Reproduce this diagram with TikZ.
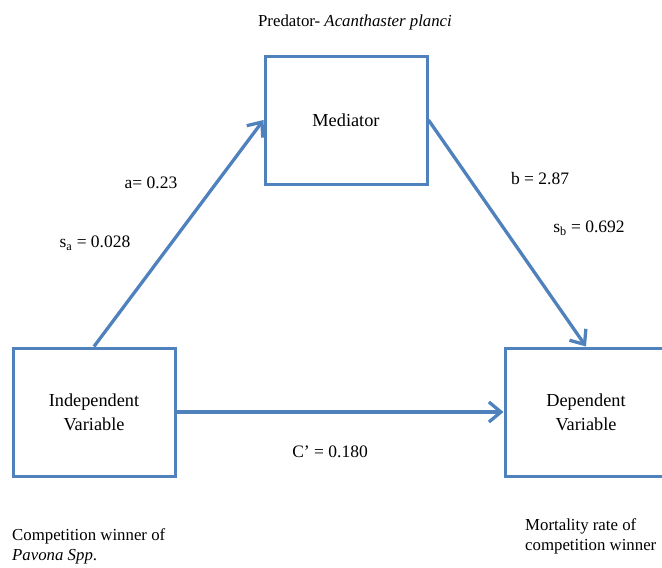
\documentclass[tikz,border=0pt]{standalone}
\usepackage{fontspec}
\setmainfont{Liberation Serif}
\usetikzlibrary{arrows.meta}
\definecolor{boxblue}{RGB}{79,129,189}
\tikzset{
	every box/.style={draw=boxblue, line width=3pt, minimum width=162pt, minimum height=128pt,
		align=center, font=\fontsize{18.3}{24}\selectfont},
	flow/.style={draw=boxblue, line width=3.3pt},
	coef/.style={inner sep=0pt, font=\fontsize{17.5}{20}\selectfont},
	note/.style={inner sep=0pt, align=left, font=\fontsize{16.8}{20.5}\selectfont},
}
\begin{document}
\begin{tikzpicture}[x=1pt, y=-1pt, >={Straight Barb[length=12pt, width=20pt]}]
		\useasboundingbox (0,0) rectangle (662,568);

		\foreach \n/\t/\x/\y in {indep/{Independent\\Variable}/94/412, med/{Mediator}/346/120, dep/{Dependent\\Variable}/586/412}
		\node [every box/.try] (\n) at (\x,\y) {\t};

		\draw [flow, ->] (indep.north) -- (med.west);
		\draw [flow, ->] (med.east) -- (dep.north);
		\draw [flow, ->] (indep.east) -- (dep.west);

		\node [coef, font=\fontsize{16.8}{20}\selectfont] (pred) at (355,22) {Predator- \textit{Acanthaster planci}};
		\node [coef] (coef-a) at (151,183) {a= 0.23};
		\node [coef] (coef-sa) at (95,243) {s\textsubscript{a} = 0.028};
		\node [coef] (coef-b) at (540,179) {b = 2.87};
		\node [coef] (coef-sb) at (589,228) {s\textsubscript{b} = 0.692};
		\node [coef] (coef-c) at (330,452) {C’ = 0.180};

		\node [note, anchor=north west] (note-indep) at (12,528) {Competition winner of\\\textit{Pavona Spp}.};
		\node [note, anchor=north west] (note-dep) at (525,518) {Mortality rate of\\competition winner};
	\end{tikzpicture}
\end{document}
